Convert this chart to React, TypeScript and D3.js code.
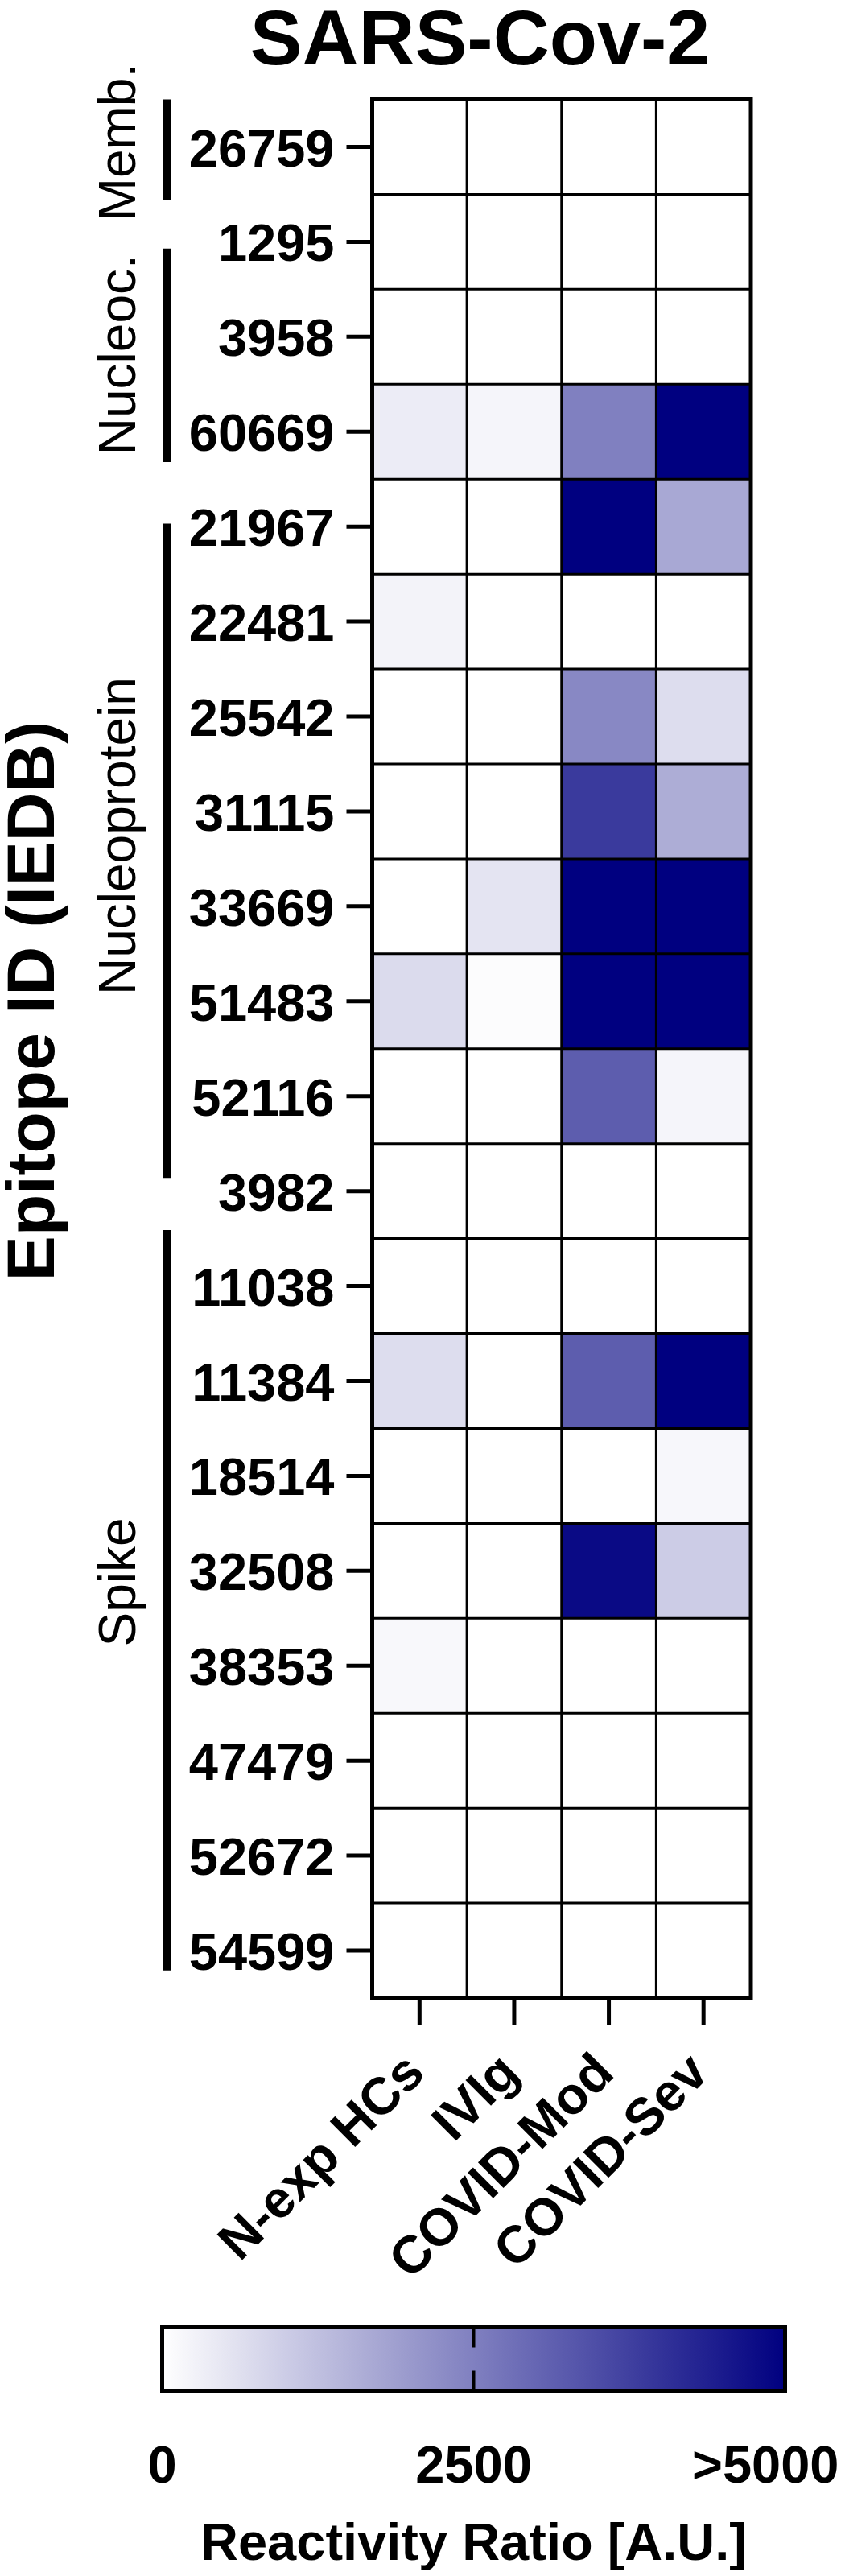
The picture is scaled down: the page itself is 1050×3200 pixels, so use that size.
import React, { useEffect, useRef } from 'react';
import * as d3 from 'd3';

// epitope IDs (rows, top to bottom)
const epitopes = ['26759', '1295', '3958', '60669', '21967', '22481', '25542', '31115', '33669', '51483',
  '52116', '3982', '11038', '11384', '18514', '32508', '38353', '47479', '52672', '54599'];

// cohorts (columns)
const cohorts = ['N-exp HCs', 'IVIg', 'COVID-Mod', 'COVID-Sev'];

// reactivity ratio per cohort, same order as epitopes
const nExpHCs = [0, 0, 0, 370, 0, 235, 0, 0, 0, 705, 0, 0, 0, 670, 0, 0, 140, 0, 0, 0];
const ivig = [0, 0, 0, 200, 0, 0, 0, 0, 530, 60, 0, 0, 0, 0, 0, 0, 0, 0, 0, 0];
const covidMod = [0, 0, 0, 2500, 5000, 0, 2330, 3860, 5000, 5000, 3175, 0, 0, 3175, 0, 4800, 0, 0, 0, 0];
const covidSev = [0, 0, 0, 5000, 1700, 0, 670, 1610, 5000, 5000, 195, 0, 0, 5000, 160, 1000, 0, 0, 0, 0];

// protein groups, spans in row units
const proteins = ['Memb.', 'Nucleoc.', 'Nucleoprotein', 'Spike'];
const proteinFrom = [0.0, 1.57, 4.47, 11.91];
const proteinTo = [1.06, 3.82, 11.36, 19.71];
const proteinLabelAt = [0.45, 2.69, 7.76, 15.62];

// colour bar
const colorTicks = [0, 2500, 5000];
const colorTickLabels = ['0', '2500', '>5000'];

const FONT = '"Liberation Sans", Arial, Helvetica, sans-serif';

export default function App() {
  const ref = useRef<SVGSVGElement>(null);

  useEffect(() => {
    const svg = d3.select(ref.current);
    svg.selectAll('*').remove();

    const left = 462.5, right = 933, top = 123.5, bottom = 2482;
    const series = [nExpHCs, ivig, covidMod, covidSev];

    const x = d3.scaleBand<string>().domain(cohorts).range([left, right]);
    const y = d3.scaleBand<string>().domain(epitopes).range([top, bottom]);
    const rowPos = d3.scaleLinear().domain([0, epitopes.length]).range([top, bottom]);
    const color = d3.scaleLinear<string>().domain([0, 5000]).range(['#ffffff', '#000080']).clamp(true);

    const cells: { c: string; e: string; v: number }[] = [];
    cohorts.forEach((c, ci) => epitopes.forEach((e, ei) => cells.push({ c, e, v: series[ci][ei] })));

    // title
    svg.append('text')
      .attr('x', 596.5).attr('y', 80)
      .attr('text-anchor', 'middle')
      .style('font', `bold 97px ${FONT}`)
      .text('SARS-Cov-2');

    // heatmap cells
    svg.append('g').selectAll('rect')
      .data(cells)
      .enter().append('rect')
        .attr('x', d => x(d.c)!)
        .attr('y', d => y(d.e)!)
        .attr('width', x.bandwidth())
        .attr('height', y.bandwidth())
        .attr('fill', d => color(d.v));

    // grid
    const grid = svg.append('g').attr('stroke', '#000').attr('stroke-width', 3);
    cohorts.slice(1).forEach(c => {
      grid.append('line').attr('x1', x(c)!).attr('x2', x(c)!).attr('y1', top).attr('y2', bottom);
    });
    epitopes.slice(1).forEach(e => {
      grid.append('line').attr('x1', left).attr('x2', right).attr('y1', y(e)!).attr('y2', y(e)!);
    });
    svg.append('rect')
      .attr('x', left).attr('y', top)
      .attr('width', right - left).attr('height', bottom - top)
      .attr('fill', 'none').attr('stroke', '#000').attr('stroke-width', 5);

    // y axis
    const yAxis = svg.append('g')
      .attr('transform', `translate(${left},0)`)
      .call(d3.axisLeft(y).tickSize(32).tickPadding(15));
    yAxis.select('.domain').remove();
    yAxis.selectAll('line').attr('stroke', '#000').attr('stroke-width', 5);
    yAxis.selectAll('text')
      .attr('fill', '#000')
      .attr('dy', '0.37em')
      .style('font', `bold 65px ${FONT}`);

    // x axis
    const xAxis = svg.append('g')
      .attr('transform', `translate(0,${bottom})`)
      .call(d3.axisBottom(x).tickSize(33).tickFormat(() => ''));
    xAxis.select('.domain').remove();
    xAxis.selectAll('line').attr('stroke', '#000').attr('stroke-width', 5);

    svg.append('g').selectAll('text')
      .data(cohorts)
      .enter().append('text')
        .attr('transform', d => `translate(${x(d)! + x.bandwidth() / 2 + 9},2578) rotate(-45)`)
        .attr('text-anchor', 'end')
        .style('font', `bold 65px ${FONT}`)
        .text(d => d);

    // protein brackets
    proteins.forEach((p, i) => {
      svg.append('line')
        .attr('x1', 207.5).attr('x2', 207.5)
        .attr('y1', rowPos(proteinFrom[i])).attr('y2', rowPos(proteinTo[i]))
        .attr('stroke', '#000').attr('stroke-width', 11);
      svg.append('text')
        .attr('transform', `translate(168,${rowPos(proteinLabelAt[i])}) rotate(-90)`)
        .attr('text-anchor', 'middle')
        .style('font', `64px ${FONT}`)
        .text(p);
    });

    // y title
    svg.append('text')
      .attr('transform', 'translate(67,1243.5) rotate(-90)')
      .attr('text-anchor', 'middle')
      .style('font', `bold 84px ${FONT}`)
      .text('Epitope ID (IEDB)');

    // colour bar
    const barTop = 2890.5, barH = 80;
    const cx = d3.scaleLinear().domain([0, 5000]).range([201.5, 975.5]);
    const grad = svg.append('defs').append('linearGradient')
      .attr('id', 'cbar').attr('x1', '0%').attr('x2', '100%');
    d3.range(0, 5001, 500).forEach(v => {
      grad.append('stop').attr('offset', `${(v / 5000) * 100}%`).attr('stop-color', color(v));
    });
    svg.append('rect')
      .attr('x', cx(0)).attr('y', barTop)
      .attr('width', cx(5000) - cx(0)).attr('height', barH)
      .attr('fill', 'url(#cbar)')
      .attr('stroke', '#000').attr('stroke-width', 5);
    svg.append('line')
      .attr('x1', cx(2500)).attr('x2', cx(2500))
      .attr('y1', barTop).attr('y2', barTop + 26)
      .attr('stroke', '#000').attr('stroke-width', 4);
    svg.append('line')
      .attr('x1', cx(2500)).attr('x2', cx(2500))
      .attr('y1', barTop + barH - 26).attr('y2', barTop + barH)
      .attr('stroke', '#000').attr('stroke-width', 4);

    svg.append('g').selectAll('text')
      .data(colorTicks)
      .enter().append('text')
        .attr('x', (d, i) => (i === colorTicks.length - 1 ? cx(d) + 67 : cx(d)))
        .attr('y', 3084)
        .attr('text-anchor', (d, i) => (i === colorTicks.length - 1 ? 'end' : 'middle'))
        .style('font', `bold 65px ${FONT}`)
        .text((d, i) => colorTickLabels[i]);

    svg.append('text')
      .attr('x', cx(2500)).attr('y', 3180)
      .attr('text-anchor', 'middle')
      .style('font', `bold 65px ${FONT}`)
      .text('Reactivity Ratio [A.U.]');
  }, []);

  return (
    <svg
      ref={ref}
      width={1050}
      height={3200}
      style={{ position: 'absolute', left: 0, top: 0, background: '#fff', display: 'block' }}
    />
  );
}
